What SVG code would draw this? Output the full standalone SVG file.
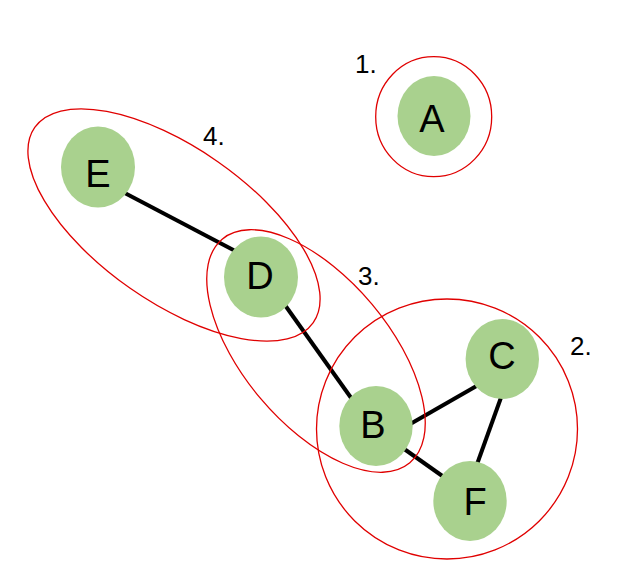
<svg xmlns="http://www.w3.org/2000/svg" width="639" height="583" viewBox="0 0 639 583">
<style>
.node{fill:#A9D18E;stroke:none}
.lbl{font-family:"Liberation Sans",Arial,sans-serif;font-size:38px;fill:#000;text-anchor:middle}
.num{font-family:"Liberation Sans",Arial,sans-serif;font-size:26px;fill:#000}
.edge{stroke:#000;stroke-width:4;fill:none}
.grp{fill:none;stroke:#E00000;stroke-width:1.3}
</style>
<rect width="639" height="583" fill="#fff"/>
<g id="connectors">
<line class="edge" x1="120" y1="190.5" x2="240" y2="253.6"/>
<line class="edge" x1="281" y1="299.5" x2="354" y2="402"/>
<line class="edge" x1="405" y1="427" x2="480" y2="384"/>
<line class="edge" x1="503" y1="392" x2="476" y2="467"/>
<line class="edge" x1="400" y1="446" x2="448" y2="480"/>
</g>
<g id="node-A"><ellipse class="node" cx="434" cy="116" rx="36.5" ry="40"/><text class="lbl" x="432" y="132">A</text></g>
<g id="node-E"><ellipse class="node" cx="98" cy="167" rx="37" ry="40.5"/><text class="lbl" x="98" y="187">E</text></g>
<g id="node-D"><ellipse class="node" cx="261" cy="277" rx="37" ry="40.5"/><text class="lbl" x="260" y="289">D</text></g>
<g id="node-B"><ellipse class="node" cx="376" cy="426" rx="36.7" ry="40"/><text class="lbl" x="373" y="438">B</text></g>
<g id="node-C"><ellipse class="node" cx="502.3" cy="359" rx="36.7" ry="40"/><text class="lbl" x="502" y="369">C</text></g>
<g id="node-F"><ellipse class="node" cx="470" cy="501" rx="36.7" ry="40"/><text class="lbl" x="475" y="515">F</text></g>
<g id="clusters">
<ellipse class="grp" cx="433.7" cy="116.7" rx="58" ry="60"/>
<ellipse class="grp" cx="447" cy="429" rx="130.5" ry="130"/>
<ellipse class="grp" cx="0" cy="0" rx="146" ry="73" transform="translate(316 351) rotate(50)"/>
<ellipse class="grp" cx="0" cy="0" rx="170" ry="77" transform="translate(174 225) rotate(35)"/>
</g>
<g id="labels">
<text class="num" x="355" y="73">1.</text>
<text class="num" x="570" y="355">2.</text>
<text class="num" x="358" y="285">3.</text>
<text class="num" x="203" y="145">4.</text>
</g>
</svg>
